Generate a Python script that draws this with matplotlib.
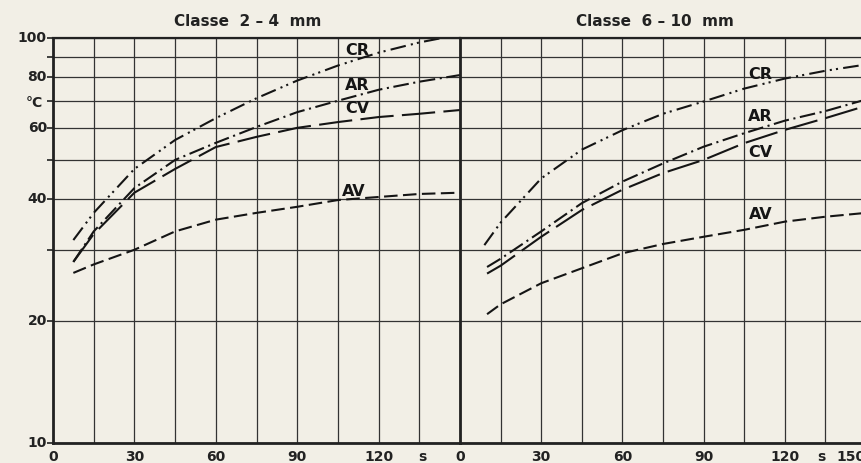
import matplotlib.pyplot as plt
from matplotlib.ticker import FixedLocator, NullFormatter

plt.rcParams['font.family'] = ['DejaVu Sans']
plt.rcParams['font.weight'] = 'bold'

# Classe 2-4 mm  (tempo s, temperatura °C)
t_a = [7.5, 15, 30, 45, 60, 75, 90, 105, 120, 135, 150]
cr_a = [31.7, 37, 47.5, 56, 63.4, 71, 78.5, 85.5, 92, 97.5, 102]
ar_a = [28, 33.3, 42.6, 50, 55.1, 60.3, 65.6, 70, 74.5, 78, 81]
cv_a = [28, 32.8, 41.5, 47.5, 53.8, 57, 60, 62, 63.8, 65, 66.4]
av_a = [26.3, 27.6, 30, 33.3, 35.6, 37, 38.3, 39.8, 40.5, 41.2, 41.5]

# Classe 6-10 mm
t_b_cr = [9, 15, 30, 45, 60, 75, 90, 105, 120, 135, 150]
cr_b = [30.8, 35, 45, 53, 59.2, 65, 69.7, 75, 79.4, 83, 86]
t_b = [10, 15, 30, 45, 60, 75, 90, 105, 120, 135, 150]
ar_b = [27.2, 28.5, 33.3, 39.1, 44.2, 49, 53.9, 58.2, 62.5, 66, 70.5]
cv_b = [26.2, 27.4, 32.3, 37.6, 42.2, 46.4, 50, 55, 59.3, 63.4, 68]
av_b = [20.8, 22, 24.8, 27, 29.4, 31, 32.3, 33.6, 35.2, 36.2, 37]

titoli = ['Classe  2 – 4  mm', 'Classe  6 – 10  mm']
nomi = ['CR', 'AR', 'CV', 'AV']
stili = {
    'CR': (0, (7.5, 2.5, 1, 2, 1, 2.5)),
    'AR': (0, (7.5, 2.2, 1, 2.2)),
    'CV': (0, (16, 4)),
    'AV': (0, (6.5, 2.6)),
}
# posizione delle etichette delle curve (s, °C)
etich_a = {'CR': (112, 93.4), 'AR': (112, 76.5), 'CV': (112, 67.1), 'AV': (111, 41.9)}
etich_b = {'CR': (111, 81.1), 'AR': (111, 64), 'CV': (111, 52.3), 'AV': (111, 36.6)}

sfondo = '#f2efe6'
scuro = '#222222'

fig = plt.figure(figsize=(8.61, 4.63), dpi=100, facecolor=sfondo)
ax1 = fig.add_axes([53/861, 20/463, 407/861, 405/463])
ax2 = fig.add_axes([460/861, 20/463, 406/861, 405/463])

dati = [
    (ax1, {'CR': (t_a, cr_a), 'AR': (t_a, ar_a), 'CV': (t_a, cv_a), 'AV': (t_a, av_a)}, etich_a),
    (ax2, {'CR': (t_b_cr, cr_b), 'AR': (t_b, ar_b), 'CV': (t_b, cv_b), 'AV': (t_b, av_b)}, etich_b),
]

for i, (ax, curve, etich) in enumerate(dati):
    ax.set_facecolor(sfondo)
    ax.set_yscale('log')
    ax.set_xlim(0, 150)
    ax.set_ylim(10, 100)

    ax.xaxis.set_major_locator(FixedLocator(list(range(0, 151, 15))))
    ax.xaxis.set_major_formatter(NullFormatter())
    ax.yaxis.set_major_locator(FixedLocator([10, 20, 30, 40, 50, 60, 70, 80, 90, 100]))
    ax.yaxis.set_minor_locator(FixedLocator([]))
    ax.yaxis.set_major_formatter(NullFormatter())
    ax.yaxis.set_minor_formatter(NullFormatter())
    ax.grid(True, which='major', color='#333333', linewidth=0.9)
    ax.tick_params(axis='x', length=0)

    for n in nomi:
        t, v = curve[n]
        ax.plot(t, v, color='#151515', linewidth=1.5, linestyle=stili[n])
        ax.text(etich[n][0], etich[n][1], n, ha='center', va='center',
                fontsize=11.5, fontweight='bold', color='#151515')

    for lato in ['top', 'bottom', 'left', 'right']:
        ax.spines[lato].set_color(scuro)
    ax.spines['top'].set_linewidth(1.6)
    ax.spines['bottom'].set_linewidth(2)
    ax.spines['left'].set_linewidth(2)
    ax.spines['right'].set_visible(False)

    xt = ax.get_xaxis_transform()
    for v in [0, 30, 60, 90, 120]:
        ax.text(v, -0.017, str(v), transform=xt, ha='center', va='top',
                fontsize=10, fontweight='bold', color=scuro)

    ax.text(0.479, 1.03, titoli[i], transform=ax.transAxes, ha='center',
            va='baseline', fontsize=11, fontweight='bold', color=scuro)

# etichette dell'asse y (solo pannello sinistro)
ax1.tick_params(axis='y', which='major', length=4, width=1.2, color=scuro)
ax2.tick_params(axis='y', length=0)
yt = ax1.get_yaxis_transform()
for v in [10, 20, 40, 60, 80, 100]:
    ax1.text(-0.015, v, str(v), transform=yt, ha='right', va='center',
             fontsize=10, fontweight='bold', color=scuro)
ax1.text(-0.025, 69, '°C', transform=yt, ha='right', va='center',
         fontsize=10, fontweight='bold', color=scuro)

ax1.text(136, -0.017, 's', transform=ax1.get_xaxis_transform(), ha='center',
         va='top', fontsize=10, fontweight='bold', color=scuro)
ax2.text(133.6, -0.017, 's', transform=ax2.get_xaxis_transform(), ha='center',
         va='top', fontsize=10, fontweight='bold', color=scuro)
ax2.text(150, -0.017, '150', transform=ax2.get_xaxis_transform(), ha='right',
         va='top', fontsize=10, fontweight='bold', color=scuro)

fig.savefig('out.png', dpi=100, facecolor=sfondo)
